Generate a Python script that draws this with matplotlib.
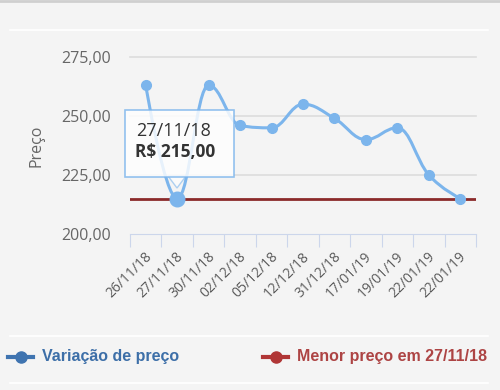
import numpy as np
import matplotlib.pyplot as plt
from matplotlib.path import Path
from matplotlib.patches import PathPatch, Rectangle, Polygon
from matplotlib.lines import Line2D
from matplotlib.transforms import ScaledTranslation

# data
datas = ['26/11/18', '27/11/18', '30/11/18', '02/12/18', '05/12/18', '12/12/18',
         '31/12/18', '17/01/19', '19/01/19', '22/01/19', '22/01/19']
precos = [263, 215, 263, 246, 245, 255, 249, 240, 245, 225, 215]
menor_preco = 215
serie_labels = ['Variação de preço', 'Menor preço em 27/11/18']
y_ticks = [200, 225, 250, 275]

W, H = 500, 390
bg = '#f4f4f4'
azul = '#7cb5ec'
vermelho = '#8b2a2a'
cinza = '#666666'

plt.rcParams['font.family'] = ['Open Sans', 'DejaVu Sans']

fig = plt.figure(figsize=(W / 100, H / 100), dpi=100, facecolor=bg)
ax = fig.add_axes([130 / W, 1 - 234 / H, (476 - 130) / W, (234 - 57) / H])
ax.set_facecolor(bg)


def spline_path(xs, ys, smoothing=1.5):
    # highcharts style spline control points
    n = len(xs)
    denom = smoothing + 1
    left = [(xs[0], ys[0])] * n
    right = [(xs[0], ys[0])] * n
    for i in range(n):
        px, py = xs[i], ys[i]
        if 0 < i < n - 1:
            lx, ly = xs[i - 1], ys[i - 1]
            nx, ny = xs[i + 1], ys[i + 1]
            lcx = (smoothing * px + lx) / denom
            lcy = (smoothing * py + ly) / denom
            rcx = (smoothing * px + nx) / denom
            rcy = (smoothing * py + ny) / denom
            if rcx != lcx:
                corr = (rcy - lcy) * (rcx - px) / (rcx - lcx) + py - rcy
                lcy += corr
                rcy += corr
            if lcy > ly and lcy > py:
                lcy = max(ly, py)
                rcy = 2 * py - lcy
            elif lcy < ly and lcy < py:
                lcy = min(ly, py)
                rcy = 2 * py - lcy
            if rcy > ny and rcy > py:
                rcy = max(ny, py)
                lcy = 2 * py - rcy
            elif rcy < ny and rcy < py:
                rcy = min(ny, py)
                lcy = 2 * py - rcy
            left[i] = (lcx, lcy)
            right[i] = (rcx, rcy)
        else:
            left[i] = (px, py)
            right[i] = (px, py)
    verts = [(xs[0], ys[0])]
    codes = [Path.MOVETO]
    for i in range(1, n):
        verts += [right[i - 1], left[i], (xs[i], ys[i])]
        codes += [Path.CURVE4] * 3
    return Path(verts, codes)


x = np.arange(len(precos))

# grid
for v in y_ticks[1:]:
    ax.plot([-0.5, len(precos) - 0.5], [v - 0.15, v - 0.15], color='#dddddd', lw=1.2,
            zorder=0, clip_on=False)

# menor preco
ax.axhline(menor_preco, color=vermelho, lw=2, zorder=2)

# serie
ax.add_patch(PathPatch(spline_path(list(x), precos), fill=False, edgecolor=azul, lw=2.2, zorder=3))
ax.plot(x, precos, 'o', color=azul, ms=7, zorder=4, lw=0)
i_min = precos.index(menor_preco)
ax.plot(x[i_min], precos[i_min], 'o', color=azul, ms=10.5, zorder=5)

ax.set_xlim(-0.5, len(precos) - 0.5)
ax.set_ylim(200, 275)
ax.set_yticks(y_ticks)
ax.set_yticklabels([f'{v:.2f}'.replace('.', ',') for v in y_ticks])
ax.tick_params(axis='y', length=0, pad=14, labelsize=11.5, labelcolor=cinza)

ax.set_xticks(np.arange(-0.5, len(precos)), minor=False)
ax.set_xticklabels([])
ax.tick_params(axis='x', which='major', length=9, color='#ccd6eb', direction='out')
ax.set_xticks(x, minor=True)
ax.set_xticklabels(datas, minor=True, rotation=45, ha='right', va='center',
                   rotation_mode='anchor')
ax.tick_params(axis='x', which='minor', length=0, pad=15, labelsize=10, labelcolor='#5a5a5a')
desloc = ScaledTranslation(4 / 100, 0, fig.dpi_scale_trans)
for lbl in ax.get_xticklabels(minor=True):
    lbl.set_transform(lbl.get_transform() + desloc)

for s in ['top', 'right', 'left']:
    ax.spines[s].set_visible(False)
ax.spines['bottom'].set_color('#ccd6eb')

ax.set_ylabel('Preço', color=cinza, fontsize=11.5, labelpad=12)

# tooltip
fig.add_artist(Polygon([(168 / W, 1 - 176 / H), (186 / W, 1 - 176 / H), (177 / W, 1 - 188 / H)],
                       closed=True, transform=fig.transFigure, facecolor='white', alpha=0.6,
                       edgecolor=azul, lw=1, zorder=6))
fig.add_artist(Rectangle((125 / W, 1 - 177 / H), 109 / W, 67 / H, transform=fig.transFigure,
                         facecolor='white', alpha=0.82, edgecolor=azul, lw=1.2, zorder=7))
fig.text(136 / W, 1 - 131 / H, datas[i_min], fontsize=13, color='#333333', va='center', zorder=8)
fig.text(135 / W, 1 - 152 / H, 'R$ ' + f'{menor_preco:.2f}'.replace('.', ','), fontsize=12.5,
         fontweight='bold', color='#333333', va='center', zorder=8)

# separators
for yy in [30, 336, 383]:
    fig.add_artist(Line2D([10 / W, 488 / W], [1 - yy / H, 1 - yy / H], color='white', lw=1.2))
fig.add_artist(Line2D([0, 1], [1 - 0.5 / H, 1 - 0.5 / H], color='#cfcfcf', lw=2))

# legend
leg_cores = [('#3f74b0', '#3d6fa8'), ('#b03636', '#ad4444')]
leg_x = [8, 263]
for lab, (cm, ct), lx in zip(serie_labels, leg_cores, leg_x):
    yy = 1 - 357 / H
    fig.add_artist(Line2D([lx / W, (lx + 25) / W], [yy, yy], color=cm, lw=3))
    fig.add_artist(Line2D([(lx + 12.5) / W], [yy], marker='o', ms=8, color=cm))
    fig.text((lx + 34) / W, yy, lab, fontsize=11.5, fontweight='bold', color=ct, va='center',
             family=['Liberation Sans', 'DejaVu Sans'])

fig.savefig('out.png', dpi=100, facecolor=bg)
